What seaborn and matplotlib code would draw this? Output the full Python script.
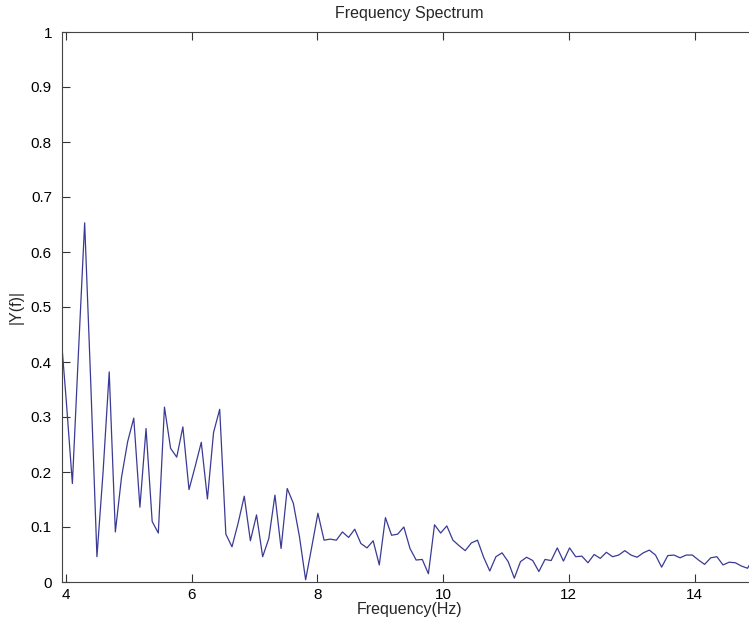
import numpy as np
import pandas as pd
import matplotlib
matplotlib.use("Agg")
import matplotlib.pyplot as plt
import seaborn as sns

# ---- data ----
fs = 100.0           # sampling rate (Hz)
nfft = 1024          # FFT length
bins = np.arange(40, 154)   # FFT bin indices shown
magnitude = [
    0.47, 0.33, 0.179, 0.42, 0.653, 0.36, 0.046, 0.20, 0.382, 0.091,
    0.19, 0.255, 0.298, 0.136, 0.279, 0.11, 0.089, 0.318, 0.243, 0.227,
    0.282, 0.168, 0.21, 0.254, 0.151, 0.272, 0.314, 0.087, 0.064, 0.107,
    0.156, 0.075, 0.122, 0.046, 0.079, 0.158, 0.061, 0.170, 0.143, 0.082,
    0.004, 0.064, 0.125, 0.076, 0.078, 0.076, 0.091, 0.081, 0.096, 0.070,
    0.062, 0.075, 0.031, 0.117, 0.085, 0.087, 0.100, 0.061, 0.040, 0.041,
    0.015, 0.104, 0.089, 0.102, 0.076, 0.066, 0.057, 0.071, 0.076, 0.045,
    0.020, 0.046, 0.053, 0.037, 0.007, 0.037, 0.045, 0.039, 0.019, 0.041,
    0.039, 0.062, 0.038, 0.062, 0.046, 0.047, 0.035, 0.050, 0.043, 0.054,
    0.046, 0.049, 0.057, 0.049, 0.045, 0.053, 0.058, 0.049, 0.027, 0.048,
    0.049, 0.044, 0.049, 0.049, 0.040, 0.032, 0.044, 0.046, 0.031, 0.036,
    0.035, 0.029, 0.025, 0.045,
]
x_ticks = [4, 6, 8, 10, 12, 14]
y_ticks = [0, 0.1, 0.2, 0.3, 0.4, 0.5, 0.6, 0.7, 0.8, 0.9, 1]
y_tick_labels = ["0", "0.1", "0.2", "0.3", "0.4", "0.5", "0.6", "0.7", "0.8", "0.9", "1"]

freq = bins * fs / nfft
df = pd.DataFrame({"Frequency": freq, "Magnitude": magnitude})

# ---- style ----
sns.set_style("white")
plt.rcParams["font.family"] = ["Liberation Sans", "DejaVu Sans"]

fig = plt.figure(figsize=(7.49, 6.27), dpi=100)
fig.patch.set_facecolor("white")
ax = fig.add_axes([61.6 / 749, 45 / 627, 695.8 / 749, 550 / 627])

sns.lineplot(data=df, x="Frequency", y="Magnitude", ax=ax,
             color="#3a3a94", linewidth=0.9)

ax.set_xlim(3.93, 15)
ax.set_ylim(0, 1)
ax.set_xticks(x_ticks)
ax.set_xticklabels([str(t) for t in x_ticks])
ax.set_yticks(y_ticks)
ax.set_yticklabels(y_tick_labels)

ax.tick_params(direction="in", length=6, width=0.8, colors="#333333",
               labelcolor="black", labelsize=11, top=True, right=True,
               bottom=True, left=True)
ax.tick_params(axis="y", pad=7)
ax.tick_params(axis="x", pad=4)
for s in ax.spines.values():
    s.set_color("#444444")
    s.set_linewidth(0.8)

ax.set_title("Frequency Spectrum", fontsize=11.5, pad=10)
ax.set_xlabel("Frequency(Hz)", fontsize=11.5, labelpad=0)
ax.set_ylabel("|Y(f)|", fontsize=11.5, labelpad=5)

fig.savefig("out.png", dpi=100, facecolor="white")
